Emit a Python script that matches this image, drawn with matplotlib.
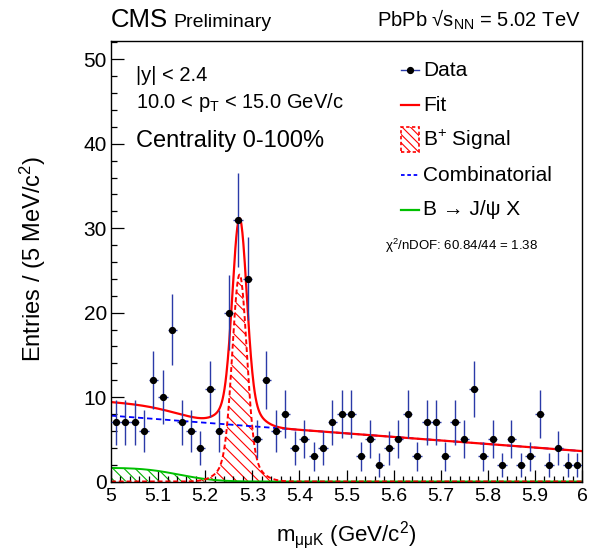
import math

import numpy as np
import matplotlib
matplotlib.use('Agg')
import matplotlib.pyplot as plt
from matplotlib.patches import Rectangle

plt.rcParams['font.family'] = ['Liberation Sans', 'DejaVu Sans']
plt.rcParams['mathtext.fontset'] = 'custom'
plt.rcParams['mathtext.rm'] = 'Liberation Sans'
plt.rcParams['mathtext.it'] = 'Liberation Sans'
plt.rcParams['mathtext.default'] = 'regular'
plt.rcParams['hatch.linewidth'] = 0.8

# binning of the mass histogram (GeV/c^2)
mass_lo = 5.0
mass_hi = 6.0
n_bins = 50

# entries per bin
counts = [7, 7, 7, 6, 12, 10, 18, 7, 6, 4, 11, 6, 20, 31, 24, 5, 12, 6,
          8, 4, 5, 3, 4, 7, 8, 8, 3, 5, 2, 4, 5, 8, 3,
          7, 7, 3, 7, 5, 11, 3, 5, 2, 5, 2, 3, 8, 2, 4, 2, 2]

# fit components (values estimated from the drawn curves)
comb_at_lo = 7.8
comb_at_hi = 3.6
jpsix_height = 1.62
jpsix_edge = 5.145
jpsix_width = 0.086
sig_mean = 5.273
sig_core_height = 21.5
sig_core_sigma = 0.015
sig_tail_height = 3.0
sig_tail_sigma = 0.033

x_ticks = [5.0, 5.1, 5.2, 5.3, 5.4, 5.5, 5.6, 5.7, 5.8, 5.9, 6.0]
x_tick_labels = ['5', '5.1', '5.2', '5.3', '5.4', '5.5', '5.6', '5.7', '5.8', '5.9', '6']
y_ticks = [0, 10, 20, 30, 40, 50]

legend_labels = ['Data', 'Fit', 'B$^{+}$ Signal', 'Combinatorial', 'B → J/ψ X']


def combinatorial(x):
    return comb_at_lo + (comb_at_hi - comb_at_lo) * (x - mass_lo) / (mass_hi - mass_lo)


def jpsi_x(x):
    return np.array([0.5 * jpsix_height * math.erfc((v - jpsix_edge) / jpsix_width) for v in x])


def signal(x):
    d = x - sig_mean
    return (sig_core_height * np.exp(-d ** 2 / (2 * sig_core_sigma ** 2))
            + sig_tail_height * np.exp(-d ** 2 / (2 * sig_tail_sigma ** 2)))


def main():
    width = (mass_hi - mass_lo) / n_bins
    centers = mass_lo + width * (np.arange(n_bins) + 0.5)
    y = np.array(counts, dtype=float)
    yerr = np.sqrt(y)

    xf = np.linspace(mass_lo, mass_hi, 1001)
    s = signal(xf)
    g = jpsi_x(xf)
    c = combinatorial(xf)
    total = s + g + c

    fig = plt.figure(figsize=(5.91, 5.51), dpi=100)
    ax = fig.add_axes([111 / 591, (551 - 481.5) / 551, 471 / 591, (481.5 - 40.7) / 551])

    # B -> J/psi X
    ax.fill_between(xf, 0, g, facecolor='none', edgecolor='#00b000', hatch='\\\\\\', linewidth=0)
    ax.plot(xf, g, color='#00c000', lw=1.4)

    # signal
    ax.fill_between(xf, 0, s, facecolor='none', edgecolor='red', hatch='\\\\\\', linewidth=0)
    ax.plot(xf, s, color='red', lw=1.4, dashes=(2.5, 1.5))

    # combinatorial + total
    ax.plot(xf, c, color='blue', lw=1.3, dashes=(3, 2))
    ax.plot(xf, total, color='red', lw=1.6)

    ax.errorbar(centers, y, yerr=yerr, xerr=width / 2, fmt='o', color='#2a3aa8',
                mfc='black', mec='black', ms=4.2, elinewidth=1.0, capsize=0, zorder=5)

    ax.set_xlim(mass_lo, mass_hi)
    ax.set_ylim(0, 52.2)
    ax.set_xticks(x_ticks)
    ax.set_xticklabels(x_tick_labels)
    ax.set_yticks(y_ticks)
    ax.set_xticks(np.arange(mass_lo, mass_hi + 0.001, 0.02), minor=True)
    ax.set_yticks(np.arange(0, 52.1, 2), minor=True)
    ax.tick_params(which='both', direction='in', width=0.9, top=False, right=False)
    ax.tick_params(axis='x', which='major', length=8.6, pad=5, labelsize=14)
    ax.tick_params(axis='x', which='minor', length=4.3)
    ax.tick_params(axis='y', which='major', length=9.4, pad=3, labelsize=15)
    ax.tick_params(axis='y', which='minor', length=4.3)
    for sp in ax.spines.values():
        sp.set_linewidth(1.0)

    ax.set_ylabel('Entries / (5 MeV/c$^{2}$)', fontsize=17, va='center')
    ax.yaxis.set_label_coords((33 - 111) / 471, 0.505)
    ax.set_xlabel('m$_{μμK}$ (GeV/c$^{2}$)', fontsize=16, va='center')
    ax.xaxis.set_label_coords(0.5, (481.5 - 535) / 440.8)

    # header
    fig.text(111 / 591, 1 - 27 / 551, 'CMS', fontsize=18.5, ha='left', va='baseline')
    fig.text(173 / 591, 1 - 27 / 551, 'Preliminary', fontsize=14, ha='left', va='baseline')
    fig.text(581 / 591, 1 - 27 / 551, 'PbPb √s$_{NN}$ = 5.02 TeV', fontsize=14.5,
             ha='right', va='baseline')

    # selection text
    ax.text(0.053, 0.922, '|y| < 2.4', fontsize=14.5, va='center', transform=ax.transAxes)
    ax.text(0.053, 0.859, '10.0 < p$_{T}$ < 15.0 GeV/c', fontsize=14.5, va='center',
            transform=ax.transAxes)
    ax.text(0.053, 0.773, 'Centrality 0-100%', fontsize=17, va='center', transform=ax.transAxes)

    # legend drawn by hand
    hx0, hx1, tx = 0.616, 0.654, 0.662
    rows = [0.9335, 0.854, 0.775, 0.695, 0.616]
    ax.plot([hx0, hx1], [rows[0]] * 2, color='#2a3aa8', lw=1.0, transform=ax.transAxes)
    ax.plot([(hx0 + hx1) / 2], [rows[0]], 'o', color='black', ms=4.2, transform=ax.transAxes)
    ax.plot([hx0, hx1], [rows[1]] * 2, color='red', lw=1.6, transform=ax.transAxes)
    ax.add_patch(Rectangle((hx0, 0.748), hx1 - hx0, 0.056, transform=ax.transAxes,
                           facecolor='none', edgecolor='red', hatch='\\\\\\\\',
                           lw=1.2, linestyle=(0, (2, 1.5))))
    ax.plot([hx0, hx1], [rows[3]] * 2, color='blue', lw=1.3, dashes=(2, 1.5), transform=ax.transAxes)
    ax.plot([hx0, hx1], [rows[4]] * 2, color='#00c000', lw=1.6, transform=ax.transAxes)
    for r, lab in zip(rows, legend_labels):
        ax.text(tx, r, lab, fontsize=15, va='center', transform=ax.transAxes)

    ax.text((538 - 111) / 471, 0.534, 'χ$^{2}$/nDOF: 60.84/44 = 1.38', fontsize=9.5,
            ha='right', va='center', transform=ax.transAxes)

    fig.savefig('out.png', dpi=100)


if __name__ == "__main__":
    main()
